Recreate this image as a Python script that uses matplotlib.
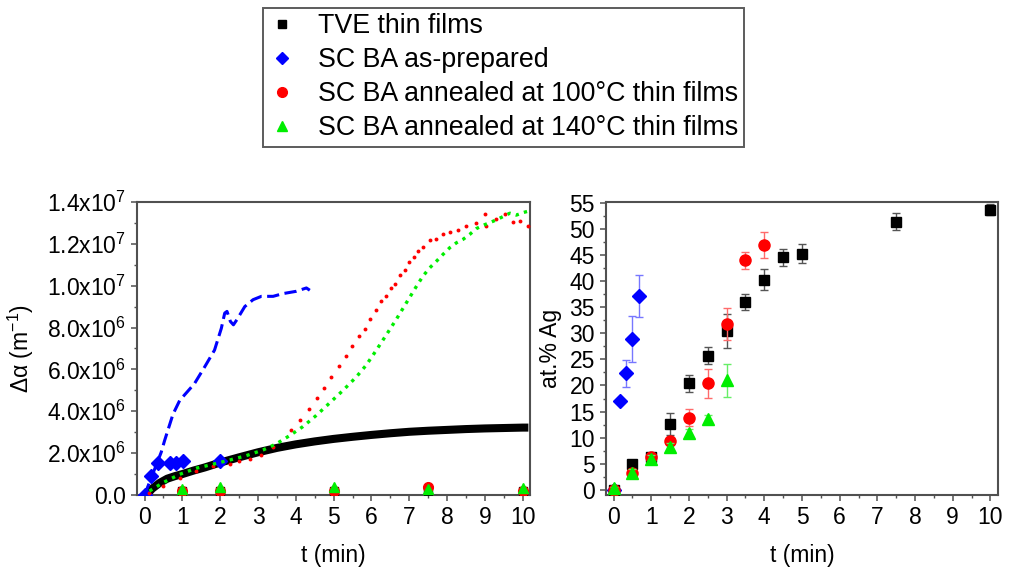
import numpy as np
import matplotlib
matplotlib.use('Agg')
import matplotlib.pyplot as plt
from matplotlib.ticker import MultipleLocator, FuncFormatter
from matplotlib.lines import Line2D

plt.rcParams['font.family'] = ['Liberation Sans', 'DejaVu Sans']
plt.rcParams['mathtext.default'] = 'regular'

# ---- left panel: delta alpha vs time (units of 1e6 m^-1) ----
tve_t = [0.05, 0.2, 0.4, 0.6, 0.8, 1.0, 1.3, 1.6, 2.0, 2.5, 3.0, 3.5, 4.0, 4.5, 5.0,
         5.5, 6.0, 6.5, 7.0, 7.5, 8.0, 8.5, 9.0, 9.5, 10.0, 10.15]
tve_a = [0.0, 0.3, 0.58, 0.78, 0.9, 1.0, 1.17, 1.32, 1.55, 1.8, 2.04, 2.25, 2.42, 2.56, 2.68,
         2.78, 2.87, 2.95, 3.02, 3.07, 3.11, 3.15, 3.18, 3.2, 3.22, 3.22]

asp_t = [0.0, 0.44, 0.53, 0.75, 0.93, 1.32, 1.59, 1.85, 2.03, 2.12, 2.18, 2.27, 2.35, 2.44,
         2.65, 2.87, 3.09, 3.4, 3.66, 4.01, 4.28, 4.37]
asp_a = [0.0, 2.04, 2.6, 3.85, 4.52, 5.32, 6.12, 6.92, 7.96, 8.69, 8.77, 8.29, 8.13, 8.37,
         9.0, 9.33, 9.49, 9.49, 9.62, 9.73, 9.89, 9.78]
asp_pt_t = [0.0, 0.18, 0.35, 0.66, 0.84, 1.01, 2.0]
asp_pt_a = [0.0, 0.91, 1.55, 1.55, 1.55, 1.63, 1.63]

a100_t = [0.13, 0.49, 0.93, 1.37, 1.81, 2.25, 2.51, 2.78, 3.09, 3.4, 3.88, 4.12, 4.35, 4.57,
          4.74, 4.94, 5.14, 5.32, 5.49, 5.67, 5.82, 5.97, 6.13, 6.26, 6.38, 6.51, 6.61,
          6.75, 6.88, 6.99, 7.12, 7.23, 7.36, 7.54, 7.72, 7.89, 8.07, 8.29, 8.51, 8.77,
          9.0, 9.04, 9.3, 9.52, 9.74, 9.92, 10.14]
a100_a = [0.11, 0.43, 0.83, 1.15, 1.39, 1.5, 1.63, 1.71, 1.92, 2.28, 3.1, 3.6, 4.1, 4.65,
          5.13, 5.63, 6.14, 6.63, 7.12, 7.61, 7.95, 8.4, 8.85, 9.25, 9.49, 9.89, 10.08,
          10.53, 10.77, 11.12, 11.38, 11.65, 11.86, 12.18, 12.21, 12.48, 12.58, 12.66, 12.85, 13.01,
          13.4, 12.85, 13.17, 13.41, 13.04, 13.09, 12.85]

a140_t = [0.13, 0.49, 0.93, 1.37, 1.81, 2.25, 2.69, 3.13, 3.48, 3.84, 4.19, 4.54, 4.89, 5.25,
          5.6, 5.86, 6.13, 6.39, 6.66, 6.92, 7.19, 7.36, 7.54, 7.72, 7.89, 8.07, 8.25, 8.42,
          8.6, 8.77, 8.95, 9.13, 9.3, 9.48, 9.66, 9.83, 10.01, 10.17]
a140_a = [0.19, 0.59, 0.99, 1.28, 1.47, 1.67, 1.88, 2.15, 2.44, 2.84, 3.27, 3.8, 4.39, 5.0,
          5.64, 6.2, 6.92, 7.64, 8.4, 9.17, 9.97, 10.45, 10.85, 11.17, 11.49, 11.81, 12.05, 12.21,
          12.45, 12.72, 12.88, 13.01, 13.14, 13.3, 13.46, 13.37, 13.49, 13.57]

bot_t = [1, 2, 5, 7.5, 10]
bot_tve = [0.18, 0.18, 0.18, 0.2, 0.18]
bot_100 = [0.2, 0.18, 0.2, 0.38, 0.2]
bot_140 = [0.28, 0.36, 0.36, 0.3, 0.34]

# ---- right panel: at.% Ag vs time ----
tve_x = [0, 0.5, 1, 1.5, 2, 2.5, 3, 3.5, 4, 4.5, 5, 7.5, 10]
tve_y = [0, 5.0, 6.2, 12.6, 20.4, 25.7, 30.5, 36.0, 40.3, 44.6, 45.3, 51.4, 53.7]
tve_e = [0.3, 0.5, 0.5, 2.1, 1.6, 1.6, 3.3, 1.6, 2.0, 1.6, 1.9, 1.6, 1.1]

asp_x = [0, 0.17, 0.33, 0.5, 0.67]
asp_y = [0, 17.1, 22.3, 28.9, 37.1]
asp_e = [0, 0, 2.6, 4.4, 4.0]

r100_x = [0, 0.5, 1, 1.5, 2, 2.5, 3, 3.5, 4]
r100_y = [0, 3.3, 6.2, 9.3, 13.8, 20.4, 31.8, 44.0, 46.9]
r100_e = [0.3, 0.5, 0.5, 0.6, 1.6, 2.8, 3.1, 1.6, 2.5]

r140_x = [0, 0.5, 1, 1.5, 2, 2.5, 3]
r140_y = [0.3, 3.2, 6.0, 8.3, 10.8, 13.6, 21.0]
r140_e = [0.3, 0.7, 0.6, 0.7, 0.8, 0.8, 3.2]

labels = ['TVE thin films', 'SC BA as-prepared',
          'SC BA annealed at 100°C thin films', 'SC BA annealed at 140°C thin films']

FS = 16.5
SPINE = '#505050'


def sci_fmt(v, pos):
    v = v * 1e6
    if v < 1:
        return '0.0'
    e = int(np.floor(np.log10(v)))
    m = v / 10 ** e
    return '%.1fx10$^{%d}$' % (m, e)


def style_axes(ax):
    for s in ax.spines.values():
        s.set_color(SPINE)
        s.set_linewidth(1.5)
    ax.tick_params(which='both', direction='out', colors=SPINE, labelcolor='black',
                   labelsize=FS, top=False, right=False)
    ax.tick_params(which='major', length=4, width=1.1, pad=4)
    ax.tick_params(which='minor', length=2.5, width=1.0)
    ax.xaxis.set_major_locator(MultipleLocator(1))
    ax.xaxis.set_minor_locator(MultipleLocator(0.5))
    ax.set_xlim(-0.2, 10.2)
    ax.set_xlabel('t (min)', fontsize=FS, labelpad=11)


fig = plt.figure(figsize=(10.11, 5.72), dpi=100)

ax1 = fig.add_axes([0.1355, 0.1346, 0.389, 0.5124])
ax1.plot(tve_t, tve_a, '-', color='black', lw=5.8, solid_capstyle='butt', zorder=2)
ax1.plot(asp_t, asp_a, color='blue', lw=2.2, dashes=(4, 1.8), zorder=3)
ax1.plot(asp_pt_t, asp_pt_a, 'D', color='blue', ms=7, zorder=4)
ax1.plot(a100_t, a100_a, 'o', color='red', ms=2.8, mec='none', zorder=4)
ax1.plot(a140_t, a140_a, color='#00ee00', lw=2.4, linestyle=(0, (1, 1.6)), zorder=5)
ax1.plot(bot_t, bot_tve, 's', color='black', ms=6, zorder=4)
ax1.plot(bot_t, bot_100, 'o', color='red', ms=7, zorder=5)
ax1.plot(bot_t, bot_140, '^', color='#00ee00', ms=7, zorder=6)
style_axes(ax1)
ax1.set_ylim(0, 14)
ax1.yaxis.set_major_locator(MultipleLocator(2))
ax1.yaxis.set_minor_locator(MultipleLocator(1))
ax1.yaxis.set_major_formatter(FuncFormatter(sci_fmt))
ax1.set_ylabel('Δα (m$^{-1}$)', fontsize=FS, labelpad=8)

ax2 = fig.add_axes([0.5994, 0.1346, 0.3877, 0.5124])
ms2 = 7
ax2.errorbar(tve_x, tve_y, yerr=tve_e, fmt='s', color='black', ms=ms2,
             ecolor='#555555', elinewidth=1, capsize=3, zorder=3)
ax2.errorbar(r100_x, r100_y, yerr=r100_e, fmt='o', color='red', ms=ms2 + 1,
             ecolor='#ff6b6b', elinewidth=1, capsize=3, zorder=4)
ax2.errorbar(r140_x, r140_y, yerr=r140_e, fmt='^', color='#00ee00', ms=ms2 + 1,
             ecolor='#66ee66', elinewidth=1, capsize=3, zorder=5)
ax2.errorbar(asp_x, asp_y, yerr=asp_e, fmt='D', color='blue', ms=ms2,
             ecolor='#7777ff', elinewidth=1, capsize=3, zorder=2)
style_axes(ax2)
ax2.set_ylim(-1, 55.2)
ax2.yaxis.set_major_locator(MultipleLocator(5))
ax2.yaxis.set_minor_locator(MultipleLocator(2.5))
ax2.set_ylabel('at.% Ag', fontsize=FS, labelpad=5)

handles = [Line2D([], [], ls='none', marker='s', color='black', ms=6),
           Line2D([], [], ls='none', marker='D', color='blue', ms=6),
           Line2D([], [], ls='none', marker='o', color='red', ms=7),
           Line2D([], [], ls='none', marker='^', color='#00ee00', ms=7)]
leg = fig.legend(handles, labels, loc='upper left', bbox_to_anchor=(263 / 1011, 1 - 8 / 572),
                 fontsize=19.3, frameon=True, fancybox=False, edgecolor='#333333',
                 handlelength=1.0, handletextpad=0.85, labelspacing=0.3,
                 borderpad=0.2, borderaxespad=0)
leg.get_frame().set_linewidth(1.4)

fig.savefig('out.png', dpi=100)
